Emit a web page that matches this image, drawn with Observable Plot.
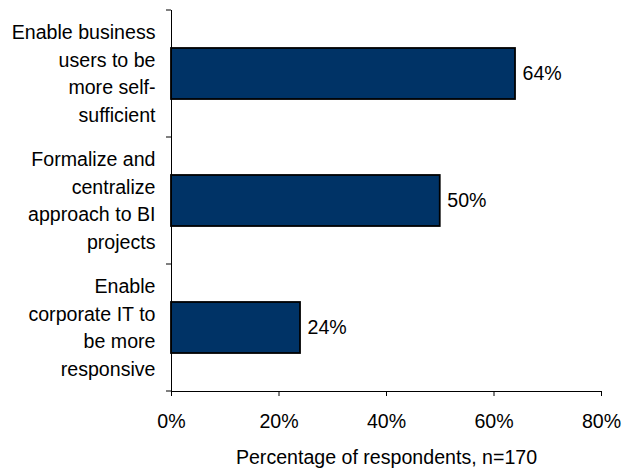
<!DOCTYPE html>
<html><head><meta charset="utf-8">
<script src="https://cdn.jsdelivr.net/npm/d3@7"></script>
<script src="https://cdn.jsdelivr.net/npm/@observablehq/plot@0.6"></script>
<style>body{margin:0;background:#fff;} svg{font-family:"Liberation Sans",Arial,sans-serif;}</style>
</head><body><div id="chart"></div>
<script>
const categories = [
  "Enable business\nusers to be\nmore self-\nsufficient",
  "Formalize and\ncentralize\napproach to BI\nprojects",
  "Enable\ncorporate IT to\nbe more\nresponsive"
];
const values = [64, 50, 24];
const xTicks = [0, 20, 40, 60, 80];
const xTitle = "Percentage of respondents, n=170";

const data = categories.map((c, i) => ({category: c, value: values[i]}));
const FS = 19.6;

const boundaryTicks = (index, scales, values, dims) => {
  const g = d3.create("svg:g");
  const bw = scales.y.bandwidth ? scales.y.bandwidth() : 0;
  const x0 = scales.x(0);
  const ys = categories.map(c => scales.y(c)).concat([scales.y(categories[categories.length-1]) + bw]);
  for (const y of ys) {
    g.append("line").attr("x1", x0 - 5).attr("x2", x0).attr("y1", y).attr("y2", y)
      .attr("stroke", "black").attr("stroke-width", 1);
  }
  return g.node();
};

const chart = Plot.plot({
  width: 623,
  height: 470,
  marginLeft: 171,
  marginRight: 22,
  marginTop: 10,
  marginBottom: 79,
  style: {fontSize: FS + "px", fontFamily: "'Liberation Sans', Arial, sans-serif", color: "black", background: "white"},
  x: {domain: [0, 80]},
  y: {domain: categories, padding: 0},
  marks: [
    Plot.barX(data, {x: "value", y: "category", fill: "#003366", stroke: "black", strokeWidth: 1.8, insetTop: 38, insetBottom: 38}),
    Plot.ruleX([0], {stroke: "black", strokeWidth: 1}),
    Plot.frame({anchor: "bottom", stroke: "black", strokeWidth: 1}),
    boundaryTicks,
    Plot.axisY({tickSize: 0, tickPadding: 16, fontSize: FS, lineHeight: 1.41, textAnchor: "end", dy: -2.5, label: null}),
    Plot.axisX({ticks: xTicks, tickFormat: d => d + "%", tickSize: 5, tickPadding: 18, fontSize: FS, label: null}),
    Plot.text(data, {x: "value", y: "category", text: d => d.value + "%", textAnchor: "start", dx: 7, fontSize: FS, fill: "black"}),
    Plot.text([xTitle], {frameAnchor: "bottom", dy: 72, text: d => d, fontSize: FS, fill: "black"})
  ]
});
document.getElementById("chart").appendChild(chart);
</script></body></html>
